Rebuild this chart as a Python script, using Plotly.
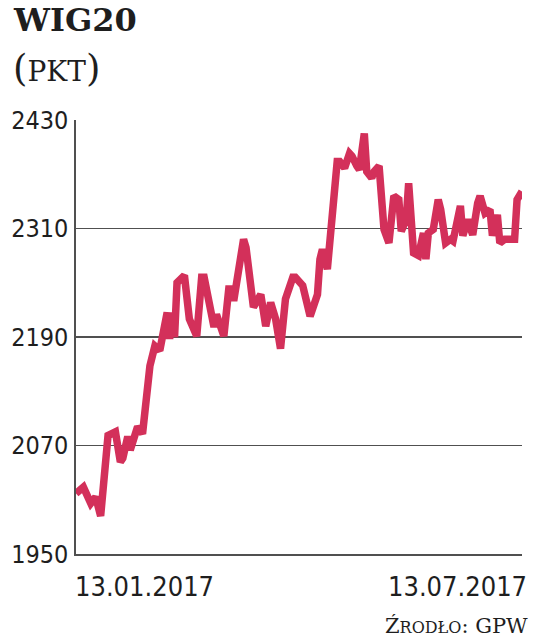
import pandas as pd
import plotly.graph_objects as go

# ---- data (WIG20, points) ----
start_date = "2017-01-13"
end_date = "2017-07-13"
day_offsets = [0, 3, 6, 8, 10, 13, 16, 18, 19, 21, 22, 25, 27, 29, 30, 32, 34, 37, 38, 39,
               40, 41, 44, 46, 49, 51, 52, 56, 57, 60, 62, 63, 64, 68, 69, 72, 75, 77, 79, 81,
               83, 85, 88, 89, 92, 95, 97, 98, 99, 100, 102, 104, 106, 107, 109, 111, 112, 114,
               115, 117, 118, 120, 121, 123, 125, 127, 128, 129, 131, 132, 134, 135, 137, 139,
               141, 142, 143, 145, 147, 148, 150, 152, 153, 156, 157, 159, 160, 161, 163, 164,
               166, 168, 169, 171, 172, 174, 176, 178, 179, 181]
values = [2017, 2024, 2006, 2013, 1992, 2081, 2085, 2052, 2056, 2080, 2065, 2091, 2083, 2133,
          2158, 2180, 2175, 2217, 2188, 2217, 2190, 2250, 2258, 2210, 2191, 2256, 2256, 2201,
          2215, 2191, 2243, 2243, 2230, 2298, 2289, 2223, 2237, 2202, 2228, 2210, 2177, 2232,
          2256, 2256, 2247, 2213, 2228, 2237, 2276, 2287, 2265, 2316, 2384, 2384, 2377, 2393,
          2390, 2379, 2375, 2415, 2373, 2366, 2373, 2379, 2309, 2294, 2320, 2346, 2342, 2307,
          2320, 2360, 2283, 2280, 2305, 2276, 2305, 2309, 2342, 2331, 2294, 2298, 2296, 2335,
          2302, 2320, 2311, 2303, 2338, 2346, 2327, 2331, 2302, 2325, 2294, 2298, 2298, 2298,
          2342, 2351]
y_ticks = [1950, 2070, 2190, 2310, 2430]
x_labels = ["13.01.2017", "13.07.2017"]
title_text = "WIG20"
unit_text = "PKT"
source_text = "Ź<span style='font-size:16px'>RODŁO</span>: GPW"

dates = pd.Timestamp(start_date) + pd.to_timedelta(day_offsets, unit="D")

# ---- layout geometry ----
W, H = 536, 644
L, R, T, B = 76, 14, 120, 90
PW, PH = W - L - R, H - T - B


def px(x):
    return (x - L) / PW


def py(y):
    return (H - B - y) / PH


LINE_COLOR = "#D3305A"
GRID_COLOR = "#505050"
TEXT_COLOR = "#1e1e1e"
SANS = "Liberation Sans Narrow, DejaVu Sans Condensed, sans-serif"
SERIF = "DejaVu Serif, serif"

fig = go.Figure()
fig.add_trace(go.Scatter(
    x=dates, y=values, mode="lines",
    line=dict(color=LINE_COLOR, width=7.5, shape="linear"),
    hoverinfo="skip", showlegend=False,
))

fig.update_layout(
    width=W, height=H,
    margin=dict(l=L, r=R, t=T, b=B, pad=0, autoexpand=False),
    paper_bgcolor="white", plot_bgcolor="white",
    showlegend=False,
    xaxis=dict(
        range=[pd.Timestamp(start_date), pd.Timestamp(end_date)],
        showgrid=False, showticklabels=False, ticks="",
        showline=True, linecolor=GRID_COLOR, linewidth=1.6,
        zeroline=False, fixedrange=True, automargin=False,
    ),
    yaxis=dict(
        range=[y_ticks[0], y_ticks[-1]],
        tickvals=y_ticks, ticktext=[str(v) for v in y_ticks],
        showgrid=True, gridcolor=GRID_COLOR, gridwidth=1.4,
        showline=True, linecolor=GRID_COLOR, linewidth=1.6,
        ticks="", ticklabelstandoff=1,
        tickfont=dict(family=SANS, size=25, color=TEXT_COLOR),
        zeroline=False, fixedrange=True, automargin=False,
    ),
)

annotations = [
    dict(text="<b>" + title_text + "</b>", x=px(11), y=py(20), xanchor="left", yanchor="middle",
         font=dict(family=SERIF, size=32, color=TEXT_COLOR)),
    dict(text="<span style='font-size:37px'>(</span>" + unit_text
              + "<span style='font-size:37px'>)</span>",
         x=px(11), y=py(68), xanchor="left", yanchor="middle",
         font=dict(family=SERIF, size=28, color=TEXT_COLOR)),
    dict(text=x_labels[0], x=px(73), y=py(586), xanchor="left", yanchor="middle",
         font=dict(family=SANS, size=27, color=TEXT_COLOR)),
    dict(text=x_labels[1], x=px(529), y=py(586), xanchor="right", yanchor="middle",
         font=dict(family=SANS, size=27, color=TEXT_COLOR)),
    dict(text=source_text, x=px(530), y=py(626), xanchor="right", yanchor="middle",
         font=dict(family=SERIF, size=21, color=TEXT_COLOR)),
]
for a in annotations:
    a.update(xref="paper", yref="paper", showarrow=False)
fig.update_layout(annotations=annotations)

fig.write_html(
    "out.html",
    config={"displayModeBar": False, "staticPlot": True},
    post_script="document.body.style.margin='0';document.body.style.overflow='hidden';",
)
